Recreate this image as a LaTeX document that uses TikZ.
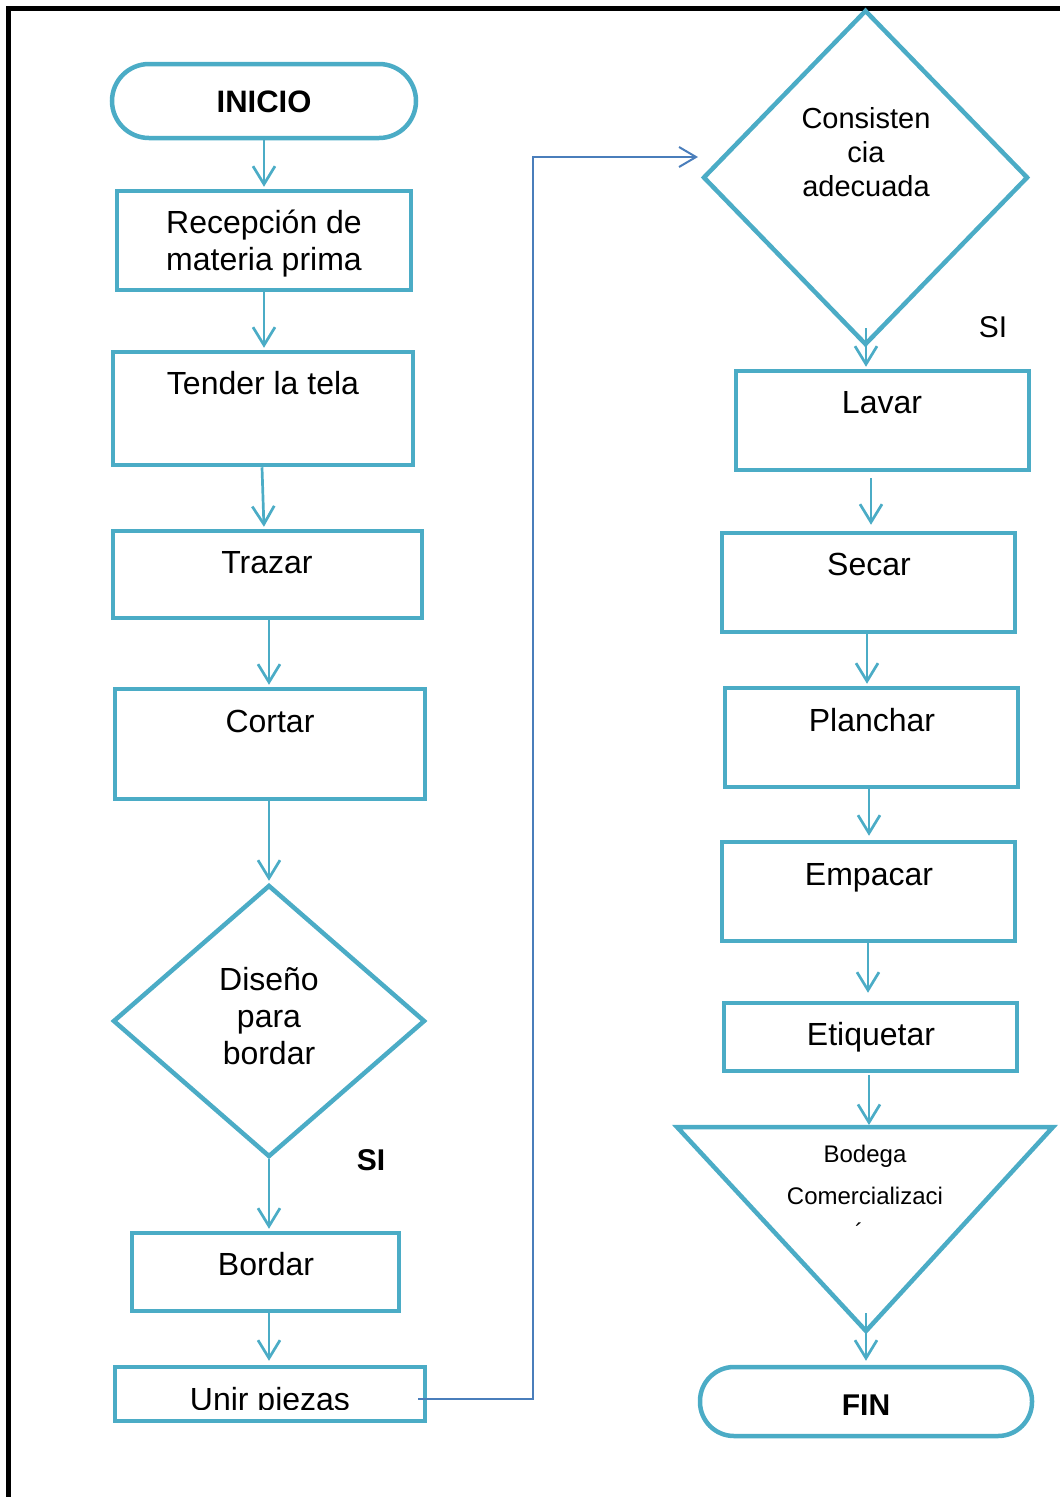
\documentclass[tikz,border=0pt]{standalone}
\usepackage{fontspec}
\setmainfont{Liberation Sans}
\usetikzlibrary{arrows.meta,shapes.geometric}
\definecolor{cyanb}{HTML}{4BACC6}
\definecolor{linkb}{HTML}{4A7EBB}
\tikzset{
  box/.style={draw=cyanb, line width=4.5pt, rectangle, inner sep=0pt, fill=white},
  dia/.style={draw=cyanb, line width=4.5pt, diamond, inner sep=0pt, fill=white},
  term/.style={draw=cyanb, line width=4.5pt, rectangle, inner sep=0pt, fill=white},
  lbl/.style={inner sep=0pt, anchor=base, font=\fontsize{32}{37}\selectfont},
  slbl/.style={inner sep=0pt, anchor=base, font=\fontsize{24}{28}\selectfont},
  blbl/.style={inner sep=0pt, anchor=base, font=\bfseries\fontsize{30}{36}\selectfont},
  mlbl/.style={inner sep=0pt, align=center},
  flow/.style={draw=cyanb, line width=2.7pt, -{Straight Barb[length=18pt,width=22pt,line width=2.7pt]}},
  link/.style={draw=linkb, line width=2pt, -{Straight Barb[length=17pt,width=20pt,line width=2pt]}},
}
\begin{document}
\begin{tikzpicture}[x=1pt,y=-1pt]
\useasboundingbox (0,0) rectangle (1060,1497);
% frame
\draw[black, line width=5pt] (8,1510) -- (8,8) -- (1070,8);

% left column
\node[term, rounded corners=37pt, minimum width=304pt, minimum height=74pt] (inicio) at (264,101) {};
\node[blbl, font=\bfseries\fontsize{31}{37}\selectfont] (tinicio) at (264,112) {INICIO};
\node[box, minimum width=294pt, minimum height=99pt] (recep) at (264,240.5) {};
\node[mlbl, font=\fontsize{32}{37}\selectfont] (trecep) at (264,244) {Recepción de\\materia prima};
\node[box, minimum width=300pt, minimum height=113pt] (tender) at (263,408.5) {};
\node[lbl] (ttender) at (263,394) {Tender la tela};
\node[box, minimum width=309pt, minimum height=87pt] (trazar) at (267.5,574.5) {};
\node[lbl] (ttrazar) at (267,573) {Trazar};
\node[box, minimum width=310pt, minimum height=110pt] (cortar) at (270,744) {};
\node[lbl] (tcortar) at (270,732) {Cortar};
\node[dia, minimum width=312pt, minimum height=272pt] (d1) at (269,1021) {};
\node[mlbl, font=\fontsize{32}{37}\selectfont] (td1) at (269,1016) {Diseño\\para\\bordar};
\node[inner sep=0pt, font=\bfseries\fontsize{30}{36}\selectfont] (si1) at (371,1160) {SI};
\node[box, minimum width=267pt, minimum height=78pt] (bordar) at (265.5,1272) {};
\node[lbl] (tbordar) at (266,1275) {Bordar};
\node[box, minimum width=310pt, minimum height=54pt] (unir) at (270,1394) {};
\begin{scope}
\clip (0,0) rectangle (1060,1409);
\node[lbl] (tunir) at (270,1410) {Unir piezas};
\end{scope}

% right column
\node[dia, minimum width=325pt, minimum height=335pt] (d2) at (865.5,177.5) {};
\node[mlbl, font=\fontsize{29}{34}\selectfont] (td2) at (866,152) {Consisten\\cia\\adecuada};
\node[inner sep=0pt, font=\fontsize{30}{36}\selectfont] (si2) at (993,327) {SI};
\node[box, minimum width=293pt, minimum height=99pt] (lavar) at (882.5,420.5) {};
\node[lbl] (tlavar) at (882,413) {Lavar};
\node[box, minimum width=293pt, minimum height=99pt] (secar) at (868.5,582.5) {};
\node[lbl] (tsecar) at (869,575) {Secar};
\node[box, minimum width=293pt, minimum height=99pt] (planchar) at (871.5,737.5) {};
\node[lbl] (tplanchar) at (872,731) {Planchar};
\node[box, minimum width=293pt, minimum height=99pt] (empacar) at (868.5,891.5) {};
\node[lbl] (tempacar) at (869,885) {Empacar};
\node[box, minimum width=293pt, minimum height=68pt] (etiq) at (870.5,1037) {};
\node[lbl] (tetiq) at (871,1045) {Etiquetar};
% triangle
\coordinate (tl) at (677,1127);
\coordinate (tr) at (1053,1127);
\coordinate (tb) at (866,1331);
\coordinate (ttop) at (869,1127);
\draw[cyanb, line width=4.5pt, line join=miter, fill=white] (tl) -- (tr) -- (tb) -- cycle;
\node[slbl] (tbod) at (865,1162) {Bodega};
\node[slbl] (tcom) at (865,1204) {Comercializaci};
\node[inner sep=0pt, font=\fontsize{24}{28}\selectfont] (tacc) at (859,1232) {´};
\node[term, rounded corners=34pt, minimum width=332pt, minimum height=69pt] (fin) at (866,1401.5) {};
\node[blbl] (tfin) at (866,1415) {FIN};

% connectors left
\draw[flow, shorten >=2pt] (inicio.south) -- (recep.north);
\draw[flow, shorten >=2pt] (recep.south) -- (tender.north -| recep.south);
\draw[flow, shorten >=2pt] (262,0 |- tender.south) -- (264,0 |- trazar.north);
\draw[flow, shorten >=2pt] (269,0 |- trazar.south) -- (269,0 |- cortar.north);
\draw[flow, shorten >=2pt] (269,0 |- cortar.south) -- (d1.north);
\draw[flow, shorten >=2pt] (d1.south) -- (269,0 |- bordar.north);
\draw[flow, shorten >=4pt] (269,0 |- bordar.south) -- (269,0 |- unir.north);
% link
\coordinate (uout) at (418,1399);
\coordinate (cin) at (698,157);
\draw[link] (uout) -| (533,157) -- (cin);
% connectors right
\draw[flow, shorten >=2pt] (866,328) -- (866,0 |- lavar.north);
\draw[flow, shorten >=6pt] (871,478) -- (871,0 |- secar.north);
\draw[flow, shorten >=2pt] (867,0 |- secar.south) -- (867,0 |- planchar.north);
\draw[flow, shorten >=4pt] (869,0 |- planchar.south) -- (869,0 |- empacar.north);
\draw[flow, shorten >=8pt] (868,0 |- empacar.south) -- (868,0 |- etiq.north);
\draw[flow, shorten >=2pt] (869,1075) -- (ttop);
\draw[flow, shorten >=4pt] (866,1313) -- (866,0 |- fin.north);
\end{tikzpicture}
\end{document}
